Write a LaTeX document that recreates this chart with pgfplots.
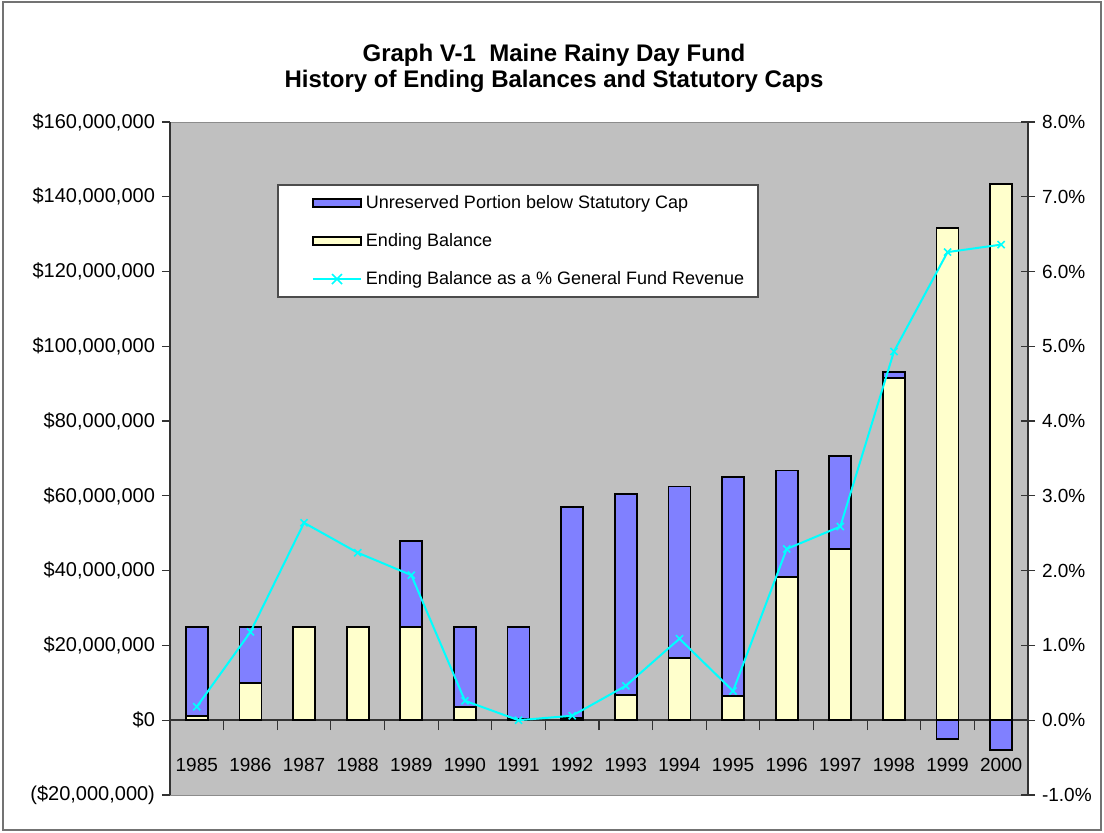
\documentclass[border=0pt]{standalone}
\usepackage{fontspec}
\setmainfont{Liberation Sans}
\usepackage{pgfplots}
\pgfplotsset{compat=1.18}
\definecolor{plotgray}{RGB}{192,192,192}
\definecolor{barblue}{RGB}{128,128,255}
\definecolor{baryellow}{RGB}{255,255,204}
\definecolor{linecyan}{RGB}{0,255,255}

\begin{document}
\begin{tikzpicture}
\useasboundingbox (-85pt,-19pt) rectangle (467pt,397.5pt);
\draw[black!55, line width=1pt] (-83.5pt,-17.5pt) rectangle (465.5pt,396.5pt);
\node[font=\bfseries\fontsize{12}{13}\selectfont, align=center] at (192pt,363.5pt)
  {Graph V-1\ \ Maine Rainy Day Fund\\History of Ending Balances and Statutory Caps};

% left axis: statutory cap and ending balance, in millions of dollars
\begin{axis}[
  scale only axis, width=429pt, height=336.5pt,
  xmin=-0.5, xmax=15.5, ymin=-20, ymax=160,
  axis background/.style={fill=plotgray, draw=black!45},
  axis x line=middle, axis y line*=left,
  x axis line style={-, black!80, line width=0.8pt},
  y axis line style={-, black!80, line width=0.8pt},
  xtick={0,...,15},
  xticklabels={1985,1986,1987,1988,1989,1990,1991,1992,1993,1994,1995,1996,1997,1998,1999,2000},
  major x tick style={draw=none},
  minor xtick={0.5,1.5,...,14.5},
  minor tick length=5pt,
  minor x tick style={black!80, line width=0.6pt, yshift=-2.5pt},
  xtick align=center,
  x tick label style={yshift=-13.5pt, font=\fontsize{9.5}{11}\selectfont},
  ytick={-20,0,20,40,60,80,100,120,140,160},
  yticklabels={{(\$20,000,000)},{\$0},{\$20,000,000},{\$40,000,000},{\$60,000,000},
               {\$80,000,000},{\$100,000,000},{\$120,000,000},{\$140,000,000},{\$160,000,000}},
  ytick align=outside, major tick length=4pt,
  y tick style={black!80, line width=0.6pt},
  y tick label style={font=\fontsize{10}{11}\selectfont},
]
  % statutory cap (blue, drawn full height; below zero where balance exceeds cap)
  \addplot[ybar, bar width=11pt, bar shift=0pt, fill=barblue, draw=black, line width=0.9pt]
    coordinates {(0,25)(1,25)(2,25)(3,25)(4,48)(5,25)(6,25)(7,57)
                 (8,60.5)(9,62.5)(10,65)(11,66.8)(12,70.7)(13,93.1)(14,-5.1)(15,-7.9)};
  % ending balance (yellow)
  \addplot[ybar, bar width=11pt, bar shift=0pt, fill=baryellow, draw=black, line width=0.9pt]
    coordinates {(0,1.2)(1,10)(2,25)(3,25)(4,25)(5,3.5)(6,0.3)(7,0.6)
                 (8,6.7)(9,16.7)(10,6.4)(11,38.2)(12,45.8)(13,91.6)(14,131.7)(15,143.5)};
\end{axis}

% right axis: balance as percent of general fund revenue
\begin{axis}[
  scale only axis, width=429pt, height=336.5pt,
  xmin=-0.5, xmax=15.5, ymin=-1, ymax=8,
  axis x line=none, axis y line*=right,
  y axis line style={-, black!80, line width=0.8pt},
  ytick={-1,0,1,2,3,4,5,6,7,8},
  yticklabels={-1.0\%,0.0\%,1.0\%,2.0\%,3.0\%,4.0\%,5.0\%,6.0\%,7.0\%,8.0\%},
  ytick align=center, major tick length=7pt,
  y tick style={black!80, line width=0.6pt},
  tick label style={font=\fontsize{9.5}{11}\selectfont},
  legend cell align=left,
  legend style={at={(0.1247,0.9079)}, anchor=north west,
                draw=black!70, line width=1pt, fill=white,
                font=\fontsize{9}{11}\selectfont,
                row sep=7pt, inner xsep=5pt, inner ysep=3pt},
]
  \addlegendimage{legend image code/.code={\path (-12pt,0pt);
      \draw[fill=barblue, draw=black, line width=0.9pt] (0pt,-2pt) rectangle (24pt,2pt);}}
  \addlegendentry{Unreserved Portion below Statutory Cap}
  \addlegendimage{legend image code/.code={\path (-12pt,0pt);
      \draw[fill=baryellow, draw=black, line width=0.9pt] (0pt,-2pt) rectangle (24pt,2pt);}}
  \addlegendentry{Ending Balance}
  \addplot[color=linecyan, line width=1pt, mark=x, mark size=2.5pt,
           mark options={line width=0.8pt},
           legend image code/.code={\path (-12pt,0pt);
             \draw[linecyan, line width=1pt] (0pt,0pt) -- (24pt,0pt);
             \draw[linecyan, line width=0.8pt] (9.5pt,-2.5pt) -- (14.5pt,2.5pt)
                                               (9.5pt,2.5pt) -- (14.5pt,-2.5pt);}]
    coordinates {(0,0.18)(1,1.18)(2,2.64)(3,2.24)(4,1.94)(5,0.26)(6,0.0)(7,0.06)
                 (8,0.46)(9,1.09)(10,0.39)(11,2.29)(12,2.59)(13,4.93)(14,6.26)(15,6.36)};
  \addlegendentry{Ending Balance as a \% General Fund Revenue}
\end{axis}
\end{tikzpicture}
\end{document}
